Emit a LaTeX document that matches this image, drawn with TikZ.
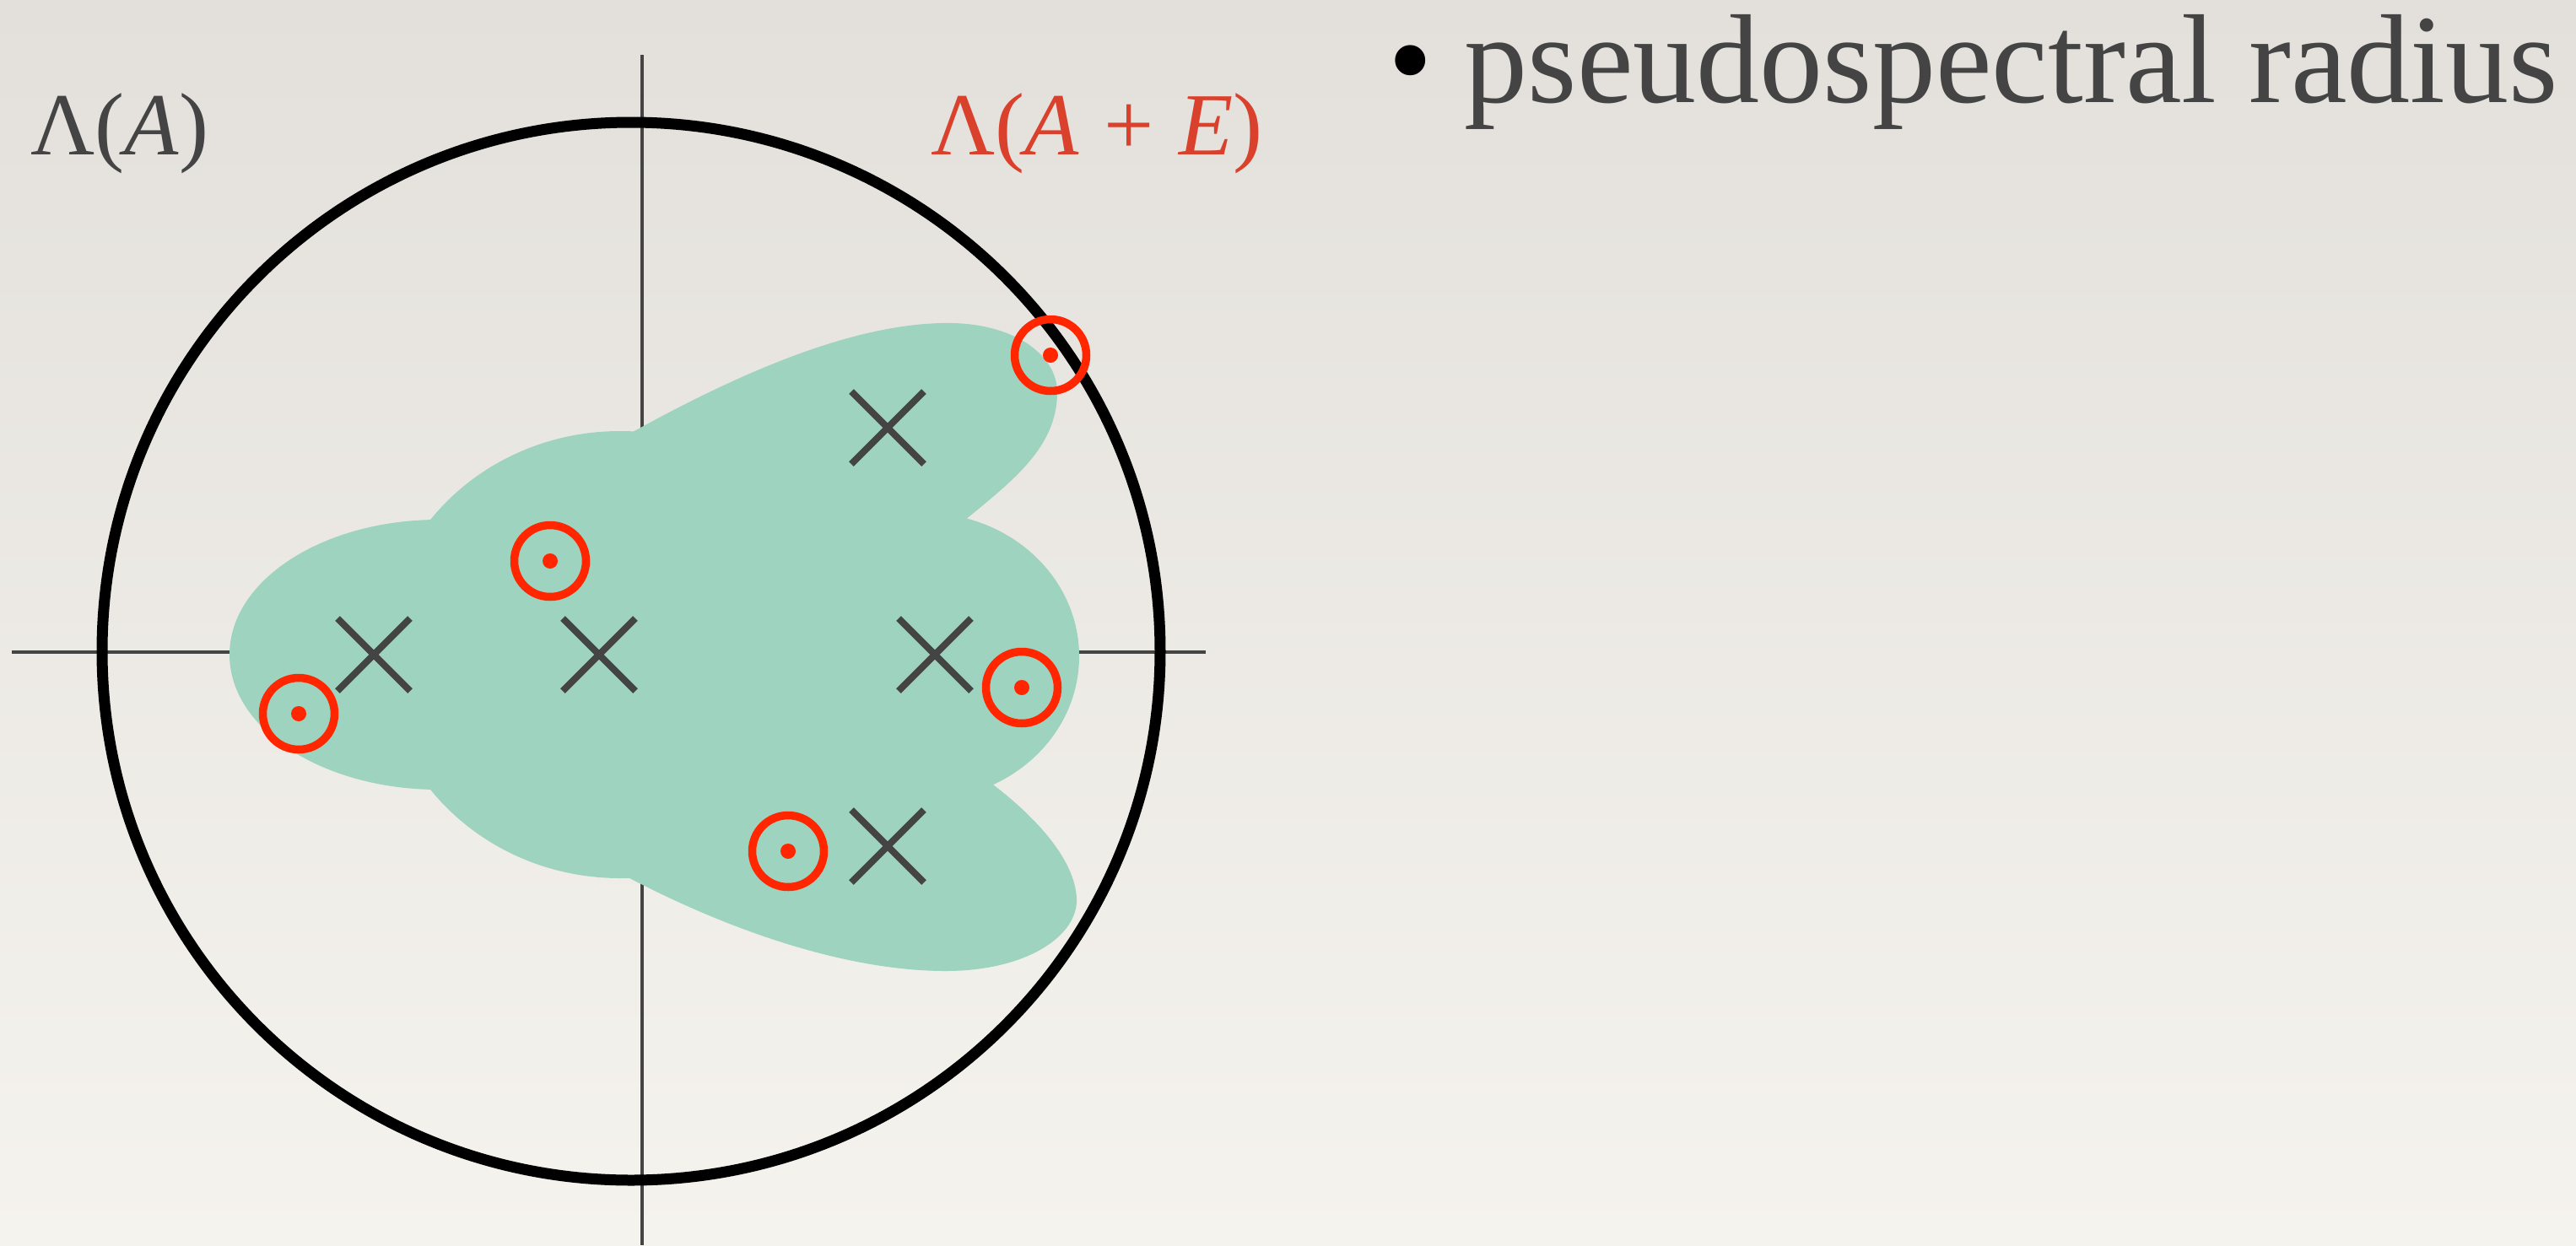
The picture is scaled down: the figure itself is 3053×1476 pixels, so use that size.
\RequirePackage{fix-cm}
\documentclass[tikz,border=0pt]{standalone}
\usepackage[no-math]{fontspec}
\newfontfamily\slidefont{Liberation Serif}
\usepackage{tikz}
\usetikzlibrary{shapes.misc}
\usepackage{xcolor}

\definecolor{paperTop}{RGB}{227,224,219}
\definecolor{paperBot}{RGB}{245,243,238}
\definecolor{lobeGreen}{RGB}{158,211,192}
\definecolor{ringRed}{RGB}{255,38,0}
\definecolor{labelRed}{RGB}{217,65,45}
\definecolor{inkGray}{RGB}{68,68,68}

\begin{document}
\begin{tikzpicture}[
  x=0.1mm, y=-0.1mm,
  axis/.style={draw=inkGray, line width=0.45mm},
  lobe/.style={fill=lobeGreen},
  eig/.style={cross out, draw=inkGray, line width=0.8mm,
              minimum size=7.8mm, inner sep=0pt},
  ring/.style={circle, draw=ringRed, line width=0.95mm,
               minimum size=8.5mm, inner sep=0pt},
  dot/.style={circle, fill=ringRed, minimum size=1.8mm, inner sep=0pt},
  speclbl/.style={anchor=base west, inner sep=0pt,
                  font=\slidefont\fontsize{29.9pt}{34pt}\selectfont},
]
  % ── Paper background ──
  \shade[top color=paperTop, bottom color=paperBot] (0,0) rectangle (3053,1476);
  \useasboundingbox (0,0) rectangle (3053,1476);
  % ── Axes ──
  \coordinate (xw) at (14,773);
  \coordinate (xe) at (1429,773);
  \coordinate (yn) at (761,65);
  \coordinate (ys) at (761,1476);
  \draw[axis] (xw) -- (xe);
  \draw[axis] (yn) -- (ys);
  % ── Pseudospectrum: union of lobes ──
  \fill[lobe] (520,776) ellipse [x radius=24.8mm, y radius=16mm];
  \fill[lobe] (735,776) ellipse [x radius=28.2mm, y radius=26.5mm];
  \fill[lobe] (1095,778) ellipse [x radius=18.4mm, y radius=17mm];
  % upper lobe (hidden part runs inside the others)
  \fill[lobe] (750,512) .. controls (880,440) and (1010,385) .. (1117,383)
    .. controls (1200,381) and (1253,420) .. (1253,465)
    .. controls (1253,530) and (1200,570) .. (1143,617)
    -- (1040,700) -- (700,650) -- (690,540) -- cycle;
  % lower lobe
  \fill[lobe] (750,1043) .. controls (880,1110) and (1010,1150) .. (1117,1151)
    .. controls (1215,1152) and (1278,1110) .. (1276,1065)
    .. controls (1274,1020) and (1230,970) .. (1173,927)
    -- (1060,860) -- (720,900) -- (690,1012) -- cycle;
  % ── Spectral radius circle ──
  \coordinate (O) at (748,772);
  \draw[line width=1.3mm] (O) circle [radius=62.7mm];
  % ── Eigenvalues of A ──
  \node[eig] (l1) at (443,776)  {};
  \node[eig] (l2) at (710,776)  {};
  \node[eig] (l3) at (1108,776) {};
  \node[eig] (l4) at (1052,507) {};
  \node[eig] (l5) at (1052,1003) {};
  % ── Eigenvalues of A+E ──
  \node[ring] (m1) at (354,846)  {};
  \node[ring] (m2) at (652,665)  {};
  \node[ring] (m3) at (1211,815) {};
  \node[ring] (m4) at (934,1009) {};
  \node[ring] (m5) at (1245,421) {};
  \node[dot] (d1) at (m1.center) {};
  \node[dot] (d2) at (m2.center) {};
  \node[dot] (d3) at (m3.center) {};
  \node[dot] (d4) at (m4.center) {};
  \node[dot] (d5) at (m5.center) {};
  % ── Labels ──
  \node[speclbl, text=inkGray]  (specA)  at (36,183)   {Λ(\textit{A})};
  \node[speclbl, text=labelRed] (specAE) at (1103,183) {Λ(\textit{A}\;+\;\textit{E})};
  \node[anchor=base west, inner sep=0pt, text=inkGray,
        font=\slidefont\fontsize{42.7pt}{50pt}\selectfont] (bullet) at (1645,121)
    {{\color{black}\textbullet}\ pseudospectral radius};
\end{tikzpicture}
\end{document}
